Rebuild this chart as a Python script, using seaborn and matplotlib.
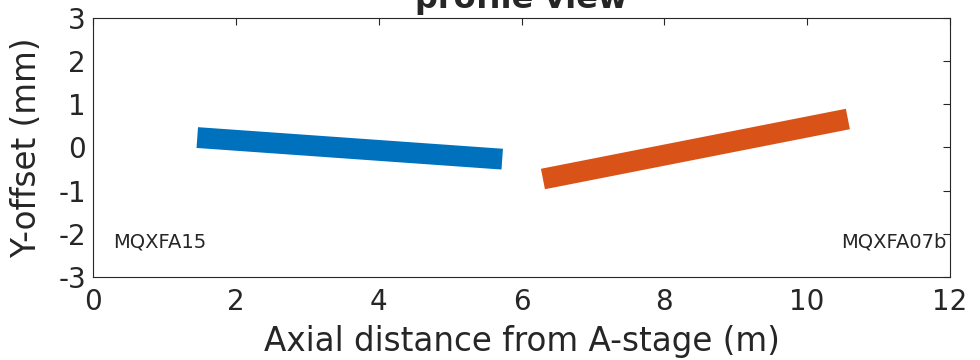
import matplotlib
matplotlib.use("Agg")
import matplotlib.pyplot as plt
import seaborn as sns
import pandas as pd

# magnet axis endpoints
mqxfa15_x = [1.46, 5.73]
mqxfa15_y = [0.23, -0.27]
mqxfa07b_x = [6.30, 10.57]
mqxfa07b_y = [-0.73, 0.66]

labels = ["MQXFA15", "MQXFA07b"]
colors = ["#0072BD", "#D95319"]

x_ticks = [0, 2, 4, 6, 8, 10, 12]
y_ticks = [-3, -2, -1, 0, 1, 2, 3]

sns.set_theme(style="white")
plt.rcParams['font.family'] = ['DejaVu Sans']
plt.rcParams['axes.unicode_minus'] = False

fig = plt.figure(figsize=(9.8, 3.6), dpi=100)
ax = fig.add_axes([0.0949, 0.2306, 0.8745, 0.7194])

df1 = pd.DataFrame({'x': mqxfa15_x, 'y': mqxfa15_y})
df2 = pd.DataFrame({'x': mqxfa07b_x, 'y': mqxfa07b_y})
sns.lineplot(data=df1, x='x', y='y', ax=ax, color=colors[0], linewidth=15,
             solid_capstyle='butt')
sns.lineplot(data=df2, x='x', y='y', ax=ax, color=colors[1], linewidth=15,
             solid_capstyle='butt')

ax.set_xlim(0, 12)
ax.set_ylim(-3, 3)
ax.set_xticks(x_ticks)
ax.set_yticks(y_ticks)
ax.tick_params(direction='in', length=5, width=0.8, colors='#262626',
               labelsize=20, top=True, right=True)
ax.tick_params(axis='x', pad=8)
ax.tick_params(axis='y', pad=5)
for lab in ax.get_xticklabels() + ax.get_yticklabels():
    lab.set_color('#262626')
for sp in ax.spines.values():
    sp.set_color('#262626')
    sp.set_linewidth(0.8)

ax.set_xlabel('Axial distance from A-stage (m)', fontsize=23.5, color='#262626')
ax.set_ylabel('Y-offset (mm)', fontsize=23.5, color='#262626')
ax.xaxis.set_label_coords(0.5, -0.185)
ax.yaxis.set_label_coords(-0.058, 0.5)
ax.set_title('profile view', fontsize=23, fontweight='bold', pad=7)

ax.text(0.28, -2.2, labels[0], fontsize=14, va='center', ha='left',
        color='#262626')
ax.text(11.95, -2.2, labels[1], fontsize=14, va='center', ha='right',
        color='#262626')

fig.savefig('out.png', dpi=100)
